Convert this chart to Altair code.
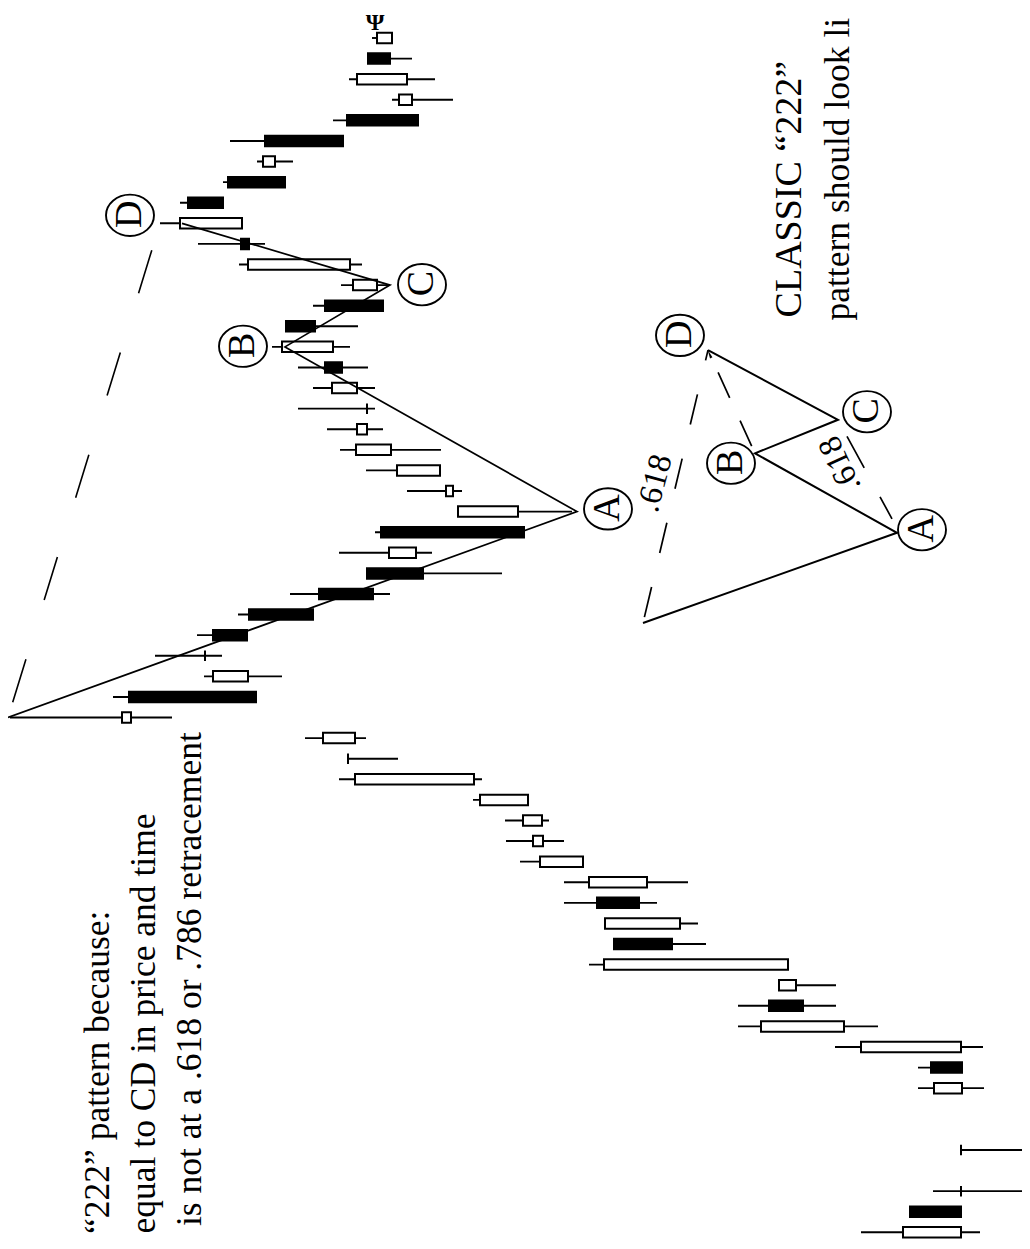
import altair as alt
import pandas as pd

# ---------------- candle data (day 0 = earliest, drawn at the bottom; price rises to the left)
day = list(range(59))
open_ = [69, 120, 69, None, 69, None, None, 68, 99, 69, 186, 261, 234, 242, 416, 350, 433, 383, 447, 487,
         488, 502, 556, 682, 675, 899, 901, 782, 825, 817, 781, 711, 663, 614, 649, 512, 577, 590, 639, 663,
         663, 673, 705, 697, 744, 705, 653, 680, 789, 788, 842, 802, 755, 765, 683, 618, 623, 662, 638]
high = [169, 120, 97, None, 69, None, None, 112, 112, 195, 292, 292, 251, 441, 416, 425, 466, 466, 510, 524,
        525, 557, 691, 682, 725, 1020, 917, 826, 875, 833, 792, 740, 663, 691, 655, 572, 623, 664, 690, 703,
        732, 717, 732, 758, 744, 717, 689, 791, 832, 870, 850, 807, 773, 800, 697, 638, 681, 662, 658]
low = [50, 69, -10, None, -15, None, None, 46, 68, 47, 152, 194, 194, 242, 324, 332, 373, 342, 447, 466,
       481, 502, 548, 632, 664, 858, 774, 748, 808, 783, 717, 640, 528, 598, 506, 458, 568, 590, 589, 647,
       655, 655, 662, 680, 672, 647, 642, 668, 765, 788, 807, 745, 737, 687, 612, 577, 595, 618, 638]
close = [127, 69, 69, None, 69, None, None, 96, 68, 169, 269, 227, 251, 426, 358, 425, 391, 441, 490, 497,
         507, 550, 675, 682, 707, 908, 774, 817, 825, 783, 717, 657, 607, 641, 506, 572, 584, 633, 674, 673,
         663, 698, 688, 748, 715, 647, 677, 782, 781, 850, 807, 745, 767, 687, 612, 631, 673, 640, 653]

# ---------------- pattern points
pat_labels = ["X", "A", "B", "C", "D"]
pat_day = [25, 35, 43, 46, 49]
pat_price = [1022, 453, 745, 640, 848]

# dashed X -> D projection
xd_day = [25, 48.52]
xd_price = [1022, 873]

# classic 222 schematic (same units)
cls_labels = ["X", "A", "B", "C", "D"]
cls_day = [29.59, 33.97, 37.83, 39.46, 42.84]
cls_price = [387, 133, 275, 192, 322]

# circled letters
circ_labels = ["A", "B", "C", "D", "A", "B", "C", "D"]
circ_day = [35.13, 43.03, 46.02, 49.39, 34.12, 37.35, 39.85, 43.56]
circ_price = [422, 787, 608, 900, 108, 299, 163, 350]

# ---------------- frames
candles = pd.DataFrame({"day": day, "open": open_, "high": high, "low": low, "close": close}).dropna()
candles["dir"] = ["up" if c >= o else "down" for o, c in zip(candles["open"], candles["close"])]

xs = alt.Scale(domain=[8, 1022], reverse=True, nice=False, zero=False)
ys = alt.Scale(domain=[-0.179, 59.214], nice=False, zero=False)
X = alt.X("price:Q", scale=xs, axis=None)
Y = alt.Y("day:Q", scale=ys, axis=None)

base = alt.Chart(candles)
wicks = base.mark_rule(color="black", strokeWidth=1.9).encode(
    y=alt.Y("day:Q", scale=ys, axis=None),
    x=alt.X("low:Q", scale=xs, axis=None),
    x2="high:Q",
)
bodies = base.mark_bar(size=10.5, stroke="black", strokeWidth=2).encode(
    y=alt.Y("day:Q", scale=ys, axis=None),
    x=alt.X("open:Q", scale=xs, axis=None),
    x2="close:Q",
    fill=alt.Fill("dir:N", scale=alt.Scale(domain=["up", "down"], range=["white", "black"]), legend=None),
)

pat = pd.DataFrame({"label": pat_labels, "day": pat_day, "price": pat_price, "seq": range(5)})
pat_line = alt.Chart(pat).mark_line(color="black", strokeWidth=1.7).encode(
    x=X, y=Y, order=alt.Order("seq:Q"))

xd = pd.DataFrame({"day": xd_day, "price": xd_price, "seq": [0, 1]})
xd_line = alt.Chart(xd).mark_line(color="black", strokeWidth=1.6, strokeDash=[45, 62],
                                  strokeDashOffset=91).encode(x=X, y=Y, order=alt.Order("seq:Q"))

cls = pd.DataFrame({"label": cls_labels, "day": cls_day, "price": cls_price, "seq": range(5)})
cls_line = alt.Chart(cls).mark_line(color="black", strokeWidth=2).encode(
    x=X, y=Y, order=alt.Order("seq:Q"))

cx = cls.set_index("label")
xd2 = pd.DataFrame({"day": [cx.loc["X", "day"], cx.loc["D", "day"]],
                    "price": [cx.loc["X", "price"], cx.loc["D", "price"]], "seq": [0, 1]})
xd2_line = alt.Chart(xd2).mark_line(color="black", strokeWidth=1.7, strokeDash=[31, 35],
                                    strokeDashOffset=60).encode(x=X, y=Y, order=alt.Order("seq:Q"))
bd2 = pd.DataFrame({"day": [cx.loc["B", "day"], cx.loc["D", "day"]],
                    "price": [cx.loc["B", "price"], cx.loc["D", "price"]], "seq": [0, 1]})
bd2_line = alt.Chart(bd2).mark_line(color="black", strokeWidth=1.7, strokeDash=[28, 25],
                                    strokeDashOffset=45).encode(x=X, y=Y, order=alt.Order("seq:Q"))
ac2 = pd.DataFrame({"day": [34.65, 38.65], "price": [138, 183], "seq": [0, 1]})
ac2_line = alt.Chart(ac2).mark_line(color="black", strokeWidth=1.7, strokeDash=[25, 33, 37, 50]).encode(
    x=X, y=Y, order=alt.Order("seq:Q"))

arrow = alt.Chart(pd.DataFrame({"day": [42.6], "price": [320]})).mark_point(
    shape="wedge", size=110, filled=True, color="black", angle=336, opacity=1).encode(x=X, y=Y)

circ = pd.DataFrame({"label": circ_labels, "day": circ_day, "price": circ_price})
ellipse = "M-1,0A1,0.86 0 1,1 1,0A1,0.86 0 1,1 -1,0Z"
circles = alt.Chart(circ).mark_point(shape=ellipse, size=2304, filled=False, stroke="black",
                                     strokeWidth=1.9, opacity=1).encode(x=X, y=Y)
letters = alt.Chart(circ).mark_text(angle=270, align="center", baseline="middle", font="Liberation Serif",
                                    fontSize=38, color="black", dx=1).encode(x=X, y=Y, text="label:N")

ratio = pd.DataFrame({"txt": [".618", ".618"], "day": [36.38, 37.30], "price": [375, 190]})
ratio_l = alt.Chart(ratio.iloc[[0]]).mark_text(angle=285, align="center", baseline="middle",
                                               font="Liberation Serif", fontSize=33,
                                               color="black").encode(x=X, y=Y, text="txt:N")
ratio_r = alt.Chart(ratio.iloc[[1]]).mark_text(angle=245, align="center", baseline="middle",
                                               font="Liberation Serif", fontSize=33,
                                               color="black").encode(x=X, y=Y, text="txt:N")

left_txt = pd.DataFrame({
    "txt": ["\u201c222\u201d pattern because:", "equal to CD in price and time",
            "is not at a .618 or .786 retracement"],
    "day": [15.62, 20.34, 24.29], "price": [921.5, 875, 829]})
left_text = alt.Chart(left_txt).mark_text(angle=270, align="right", baseline="alphabetic",
                                          font="Liberation Serif", fontSize=35.5, color="black").encode(
    x=X, y=Y, text="txt:N")

right_txt = pd.DataFrame({"txt": ["CLASSIC \u201c222\u201d", "pattern should look li"],
                          "day": [44.43, 44.28], "price": [229, 181], "fs": [38, 36]})
right_text1 = alt.Chart(right_txt.iloc[[0]]).mark_text(angle=270, align="left", baseline="alphabetic",
                                                       font="Liberation Serif", fontSize=38,
                                                       color="black").encode(x=X, y=Y, text="txt:N")
right_text2 = alt.Chart(right_txt.iloc[[1]]).mark_text(angle=270, align="left", baseline="alphabetic",
                                                       font="Liberation Serif", fontSize=35.5,
                                                       color="black").encode(x=X, y=Y, text="txt:N")

glitch = alt.Chart(pd.DataFrame({"txt": ["\u03a8"], "day": [58.75], "price": [655]})).mark_text(
    font="Liberation Serif", fontSize=24, fontWeight="bold", baseline="middle", color="black").encode(
    x=X, y=Y, text="txt:N")

chart = alt.layer(
    wicks, bodies, pat_line, xd_line, cls_line, xd2_line, bd2_line, ac2_line, arrow,
    circles, letters, ratio_l, ratio_r, left_text, right_text1, right_text2, glitch
).properties(
    width=1014, height=1233, autosize=alt.AutoSizeParams(type="none"), padding=0,
    background="white"
).configure_view(strokeWidth=0)

chart.save("out.html", embed_options={"renderer": "svg", "actions": False})
